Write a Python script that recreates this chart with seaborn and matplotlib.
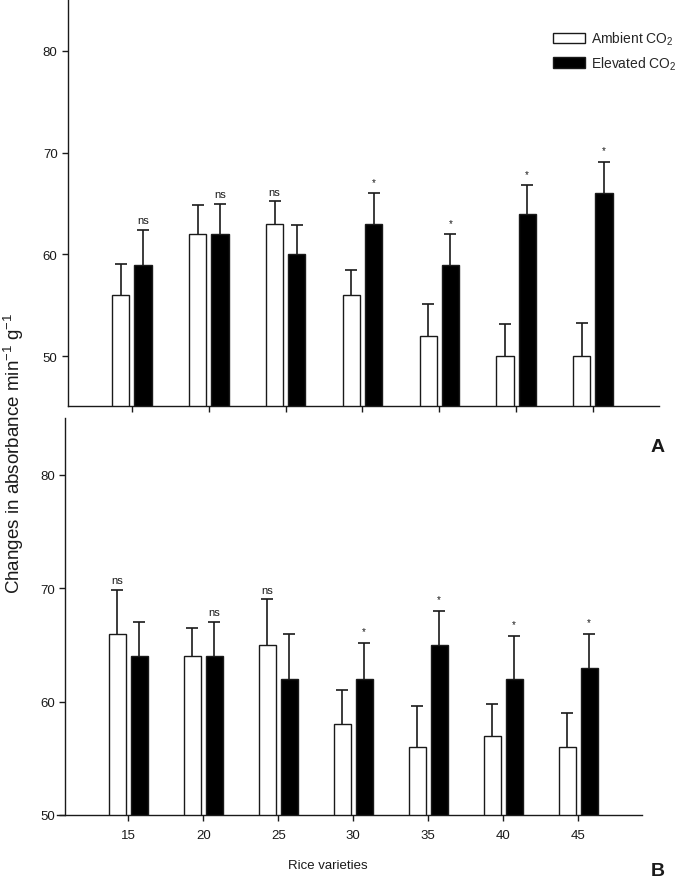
import numpy as np
import pandas as pd
import matplotlib
matplotlib.use("Agg")
import matplotlib.pyplot as plt
from matplotlib.patches import Patch
import seaborn as sns

# ---------------- data ----------------
varieties = ["15", "20", "25", "30", "35", "40", "45"]
treatments = ["Ambient", "Elevated"]
legend_labels = ["Ambient CO$_2$", "Elevated CO$_2$"]

a_ambient = [56, 62, 63, 56, 52, 50, 50]
a_ambient_err = [3.1, 2.9, 2.2, 2.5, 3.1, 3.15, 3.25]
a_elevated = [59, 62, 60, 63, 59, 64, 66]
a_elevated_err = [3.4, 3.0, 2.9, 3.0, 3.0, 2.8, 3.1]
a_sig = ["ns", "ns", "ns", "*", "*", "*", "*"]
a_sig_on = ["Elevated", "Elevated", "Ambient", "Elevated", "Elevated", "Elevated", "Elevated"]

b_ambient = [66, 64, 65, 58, 56, 57, 56]
b_ambient_err = [3.8, 2.5, 4.0, 3.0, 3.6, 2.8, 3.0]
b_elevated = [64, 64, 62, 62, 65, 62, 63]
b_elevated_err = [3.0, 3.0, 4.0, 3.2, 3.0, 3.8, 3.0]
b_sig = ["ns", "ns", "ns", "*", "*", "*", "*"]
b_sig_on = ["Ambient", "Elevated", "Ambient", "Elevated", "Elevated", "Elevated", "Elevated"]

yticks = [50, 60, 70, 80]

# ---------------- style ----------------
sns.set_theme(style="ticks")
plt.rcParams["font.family"] = ["Liberation Sans", "DejaVu Sans"]
plt.rcParams["mathtext.default"] = "regular"
INK = "#1a1a1a"

fig = plt.figure(figsize=(6.85, 8.87), dpi=100)
ax_a = fig.add_axes([68 / 685, 1 - 407 / 887, 591 / 685, 407 / 887])
ax_b = fig.add_axes([57 / 685, 1 - 816 / 887, 585 / 685, 397 / 887])


def panel(ax, amb, amb_err, elev, elev_err, sig, sig_on, ylim, xlim):
    df = pd.DataFrame({
        "Variety": varieties * 2,
        "Treatment": ["Ambient"] * len(varieties) + ["Elevated"] * len(varieties),
        "Value": amb + elev,
    })
    sns.barplot(data=df, x="Variety", y="Value", hue="Treatment",
                order=varieties, hue_order=treatments,
                palette={"Ambient": "white", "Elevated": "black"},
                width=0.58, gap=0.224, errorbar=None, legend=False,
                edgecolor=INK, linewidth=1.0, ax=ax)
    bars = sorted(ax.patches, key=lambda p: p.get_x())
    centers = [p.get_x() + p.get_width() / 2 for p in bars]
    amb_x = centers[0::2]
    elev_x = centers[1::2]
    vals = {"Ambient": (amb_x, amb, amb_err), "Elevated": (elev_x, elev, elev_err)}
    for t in treatments:
        xs, v, e = vals[t]
        tops = [vi + ei for vi, ei in zip(v, e)]
        ax.vlines(xs, v, tops, color=INK, lw=1.2, zorder=3)
        ax.plot(xs, tops, ls="none", marker="_", ms=9, mew=1.2, color=INK, zorder=3)
    for i, (lab, on) in enumerate(zip(sig, sig_on)):
        xs, v, e = vals[on]
        top = v[i] + e[i]
        if lab == "ns":
            ax.annotate(lab, (xs[i], top), xytext=(0, 5), textcoords="offset points",
                        ha="center", va="baseline", fontsize=8, color=INK)
        else:
            ax.annotate(lab, (xs[i], top), xytext=(0, 6), textcoords="offset points",
                        ha="center", va="baseline", fontsize=7, color=INK)
    ax.set_ylim(*ylim)
    ax.set_xlim(*xlim)
    ax.set_yticks(yticks)
    ax.set_xlabel("")
    ax.set_ylabel("")
    for s in ["top", "right"]:
        ax.spines[s].set_visible(False)
    for s in ["left", "bottom"]:
        ax.spines[s].set_color(INK)
        ax.spines[s].set_linewidth(1.0)
    ax.tick_params(axis="both", direction="out", length=4, width=1.0,
                   color=INK, labelsize=9.5, labelcolor=INK)


panel(ax_a, a_ambient, a_ambient_err, a_elevated, a_elevated_err, a_sig, a_sig_on,
      (45.1, 85.1), (-0.833, 6.86))
ax_a.set_xticklabels([])

panel(ax_b, b_ambient, b_ambient_err, b_elevated, b_elevated_err, b_sig, b_sig_on,
      (50, 85.0), (-0.95, 6.85))
ax_b.spines["left"].set_position(("data", -0.84))
ax_b.tick_params(axis="x", pad=6)

# legend
handles = [Patch(facecolor="white", edgecolor=INK, linewidth=1.0),
           Patch(facecolor="black", edgecolor=INK, linewidth=1.0)]
fig.legend(handles, legend_labels, loc="upper left",
           bbox_to_anchor=(553 / 685, 1 - 31 / 887), frameon=False,
           fontsize=10, handlelength=2.3, handleheight=0.8,
           handletextpad=0.45, labelspacing=0.5, borderpad=0, borderaxespad=0)

fig.text(14 / 685, 1 - 453 / 887, "Changes in absorbance min$^{-1}$ g$^{-1}$",
         rotation=90, ha="center", va="center", fontsize=13.5, color=INK)
fig.text(328 / 685, 1 - 866 / 887, "Rice varieties", ha="center", va="center",
         fontsize=9.5, color=INK)
fig.text(658 / 685, 1 - 448 / 887, "A", ha="center", va="center",
         fontsize=14, fontweight="bold", color=INK)
fig.text(658 / 685, 1 - 872 / 887, "B", ha="center", va="center",
         fontsize=14, fontweight="bold", color=INK)

fig.savefig("out.png", dpi=100, facecolor="white")
